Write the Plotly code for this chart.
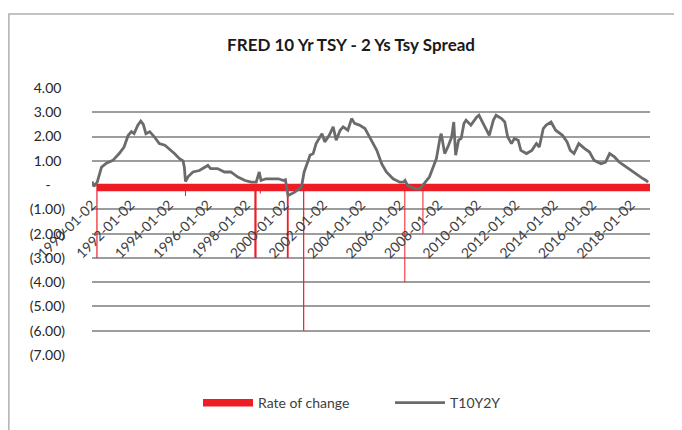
import plotly.graph_objects as go

# ---------------- data ----------------
spread_dates = [
    "1990-01-02", "1990-02-05", "1990-04-10", "1990-07-01", "1990-10-01", "1991-02-01",
    "1991-06-01", "1991-09-01", "1991-11-20", "1992-01-20", "1992-03-10", "1992-05-20",
    "1992-07-15", "1992-09-01", "1992-10-20", "1993-01-01", "1993-04-01", "1993-07-01",
    "1993-10-15", "1994-01-01", "1994-04-15", "1994-07-20", "1994-09-25", "1994-10-20",
    "1994-11-10", "1995-01-01", "1995-04-01", "1995-08-01", "1996-01-10", "1996-03-01",
    "1996-07-10", "1996-11-20", "1997-03-20", "1997-08-01", "1997-12-15", "1998-04-15",
    "1998-07-15", "1998-09-10", "1998-10-15", "1999-01-15", "1999-04-15", "1999-09-10",
    "1999-12-15", "2000-01-20", "2000-03-10", "2000-07-15", "2000-11-20", "2001-01-10",
    "2001-03-30", "2001-05-01", "2001-06-30", "2001-08-25", "2001-12-15", "2002-02-05",
    "2002-05-01", "2002-07-15", "2002-09-10", "2002-11-25", "2003-01-20", "2003-04-20",
    "2003-06-30", "2003-08-25", "2003-11-25", "2004-03-10", "2004-05-01", "2004-07-20",
    "2004-10-20", "2005-01-20", "2005-04-20", "2005-08-25", "2006-01-01", "2006-03-10",
    "2006-04-10", "2006-05-25", "2006-10-20", "2007-01-20", "2007-03-10", "2007-05-25",
    "2007-07-15", "2007-09-10", "2007-11-25", "2008-02-05", "2008-02-25", "2008-05-01",
    "2008-06-30", "2008-09-10", "2008-10-20", "2008-11-25", "2009-01-20", "2009-03-10",
    "2009-05-01", "2009-06-10", "2009-09-10", "2010-01-01", "2010-02-10", "2010-04-01",
    "2010-07-01", "2010-08-25", "2010-11-10", "2011-01-01", "2011-04-15", "2011-06-15",
    "2011-08-10", "2011-10-20", "2011-12-15", "2012-02-25", "2012-04-15", "2012-08-01",
    "2012-11-10", "2013-02-05", "2013-04-01", "2013-06-15", "2013-08-10", "2013-11-10",
    "2014-02-05", "2014-06-15", "2014-09-10", "2014-11-10", "2015-01-20", "2015-04-20",
    "2015-08-10", "2015-11-10", "2016-02-05", "2016-06-15", "2016-09-10", "2016-11-25",
    "2017-02-25", "2017-05-25", "2017-08-25", "2017-11-25", "2018-02-05", "2018-05-01",
    "2018-08-25", "2018-10-20", "2018-11-25",
]
spread_values = [
    0.15, -0.05, 0.12, 0.74, 0.90, 1.02,
    1.30, 1.57, 2.05, 2.20, 2.12, 2.47,
    2.64, 2.50, 2.12, 2.20, 1.98, 1.71,
    1.64, 1.50, 1.30, 1.09, 1.00, 0.74,
    0.15, 0.35, 0.54, 0.60, 0.81, 0.68,
    0.68, 0.54, 0.54, 0.33, 0.19, 0.12,
    0.12, 0.54, 0.19, 0.26, 0.26, 0.26,
    0.19, 0.22, -0.43, -0.29, -0.08, 0.54,
    1.02, 1.23, 1.30, 1.71, 2.12, 1.78,
    2.05, 2.40, 1.85, 2.26, 2.40, 2.26,
    2.74, 2.54, 2.47, 2.33, 2.12, 1.78,
    1.43, 0.88, 0.54, 0.26, 0.12, 0.12,
    0.19, -0.01, -0.15, -0.15, 0.00, 0.19,
    0.33, 0.68, 1.09, 1.98, 2.12, 1.30,
    1.57, 1.98, 2.60, 1.23, 1.85, 1.92,
    2.54, 2.67, 2.47, 2.81, 2.88, 2.67,
    2.26, 2.05, 2.67, 2.88, 2.74, 2.60,
    1.98, 1.71, 1.92, 1.85, 1.43, 1.30,
    1.43, 1.71, 1.57, 2.33, 2.47, 2.60,
    2.26, 2.05, 1.78, 1.43, 1.30, 1.71,
    1.50, 1.36, 1.02, 0.88, 0.95, 1.30,
    1.16, 0.95, 0.81, 0.67, 0.54, 0.40,
    0.26, 0.19, 0.12,
]

# "Rate of change": the dense band of small values, and its large spikes
rate_band_dates = ["1990-04-05", "2019-01-15"]
rate_band_values = [-0.10, -0.10]
rate_spike_dates = ["1990-04-05", "1994-11-10", "1998-07-01", "1998-10-01",
                    "2000-03-05", "2001-01-01", "2006-04-05", "2007-03-15"]
rate_spike_values = [-3.0, -0.45, -3.0, -0.35, -3.0, -6.0, -4.0, -2.0]
rate_spike_widths = [1.2, 1.0, 2.2, 1.0, 1.8, 1.2, 1.0, 1.0]

x_tick_labels = ["1990-01-02", "1992-01-02", "1994-01-02", "1996-01-02", "1998-01-02",
                 "2000-01-02", "2002-01-02", "2004-01-02", "2006-01-02", "2008-01-02",
                 "2010-01-02", "2012-01-02", "2014-01-02", "2016-01-02", "2018-01-02"]
y_ticks = [4, 3, 2, 1, 0, -1, -2, -3, -4, -5, -6, -7]
x_range = ["1990-01-01", "2019-01-01"]
y_range = [-7, 4]


def acct(v):
    if v > 0:
        return f"{v:.2f}\u00a0"
    if v < 0:
        return f"({abs(v):.2f})"
    return "-\u00a0\u00a0\u00a0\u00a0"


FONT = "Lato"
RED = "#ee1c25"

fig = go.Figure()

fig.add_trace(go.Scatter(
    x=rate_band_dates, y=rate_band_values, mode="lines", name="Rate of change",
    line=dict(color=RED, width=7.5), hoverinfo="skip",
))
for d, v, w in zip(rate_spike_dates, rate_spike_values, rate_spike_widths):
    fig.add_trace(go.Scatter(
        x=[d, d], y=[0, v], mode="lines", showlegend=False,
        line=dict(color=RED, width=w), hoverinfo="skip",
    ))
fig.add_trace(go.Scatter(
    x=spread_dates, y=spread_values, mode="lines", name="T10Y2Y",
    line=dict(color="#6b6b6b", width=2.8),
))

zero_pos = (0 - y_range[0]) / (y_range[1] - y_range[0])

# the page body adds an 8px margin, so the figure is 8px smaller than the window
fig.update_layout(
    width=674, height=422,
    margin=dict(l=84, r=32, t=80, b=75, autoexpand=False),
    paper_bgcolor="white", plot_bgcolor="white",
    font=dict(family=FONT, color="#404040", size=14),
    title=dict(text="<b>FRED 10 Yr TSY - 2 Ys Tsy Spread</b>", x=0.509, xanchor="center",
               y=1 - 37 / 422, yanchor="middle", font=dict(family=FONT, size=17, color="#1a1a1a")),
    xaxis=dict(
        type="date", range=x_range, anchor="free", position=zero_pos,
        tickvals=x_tick_labels, ticktext=x_tick_labels, tickangle=-45,
        showgrid=False, zeroline=False, showline=False, ticks="",
        ticklabelstandoff=8,
        tickfont=dict(family=FONT, size=14, color="#404040"), automargin=False,
    ),
    yaxis=dict(
        range=y_range, tickvals=y_ticks, ticktext=[acct(v) for v in y_ticks],
        showgrid=True, gridcolor="#9d9d9d", gridwidth=1.5, zeroline=False,
        showline=False, ticks="", ticklabelstandoff=26,
        tickfont=dict(family=FONT, size=14, color="#262626"), automargin=False,
    ),
    legend=dict(orientation="h", x=(198 - 92) / 558, xanchor="left", y=-0.18, yanchor="middle",
                font=dict(family=FONT, size=14, color="#404040"), itemwidth=50,
                entrywidth=127, entrywidthmode="pixels",
                bgcolor="rgba(0,0,0,0)"),
    showlegend=True,
    shapes=[dict(type="rect", xref="paper", yref="paper",
                 x0=-0.149, x1=1.5, y0=-0.6, y1=1.277,
                 line=dict(color="#b0b0b0", width=1.5), fillcolor="rgba(0,0,0,0)",
                 layer="below")],
)

fig.write_html("out.html")
